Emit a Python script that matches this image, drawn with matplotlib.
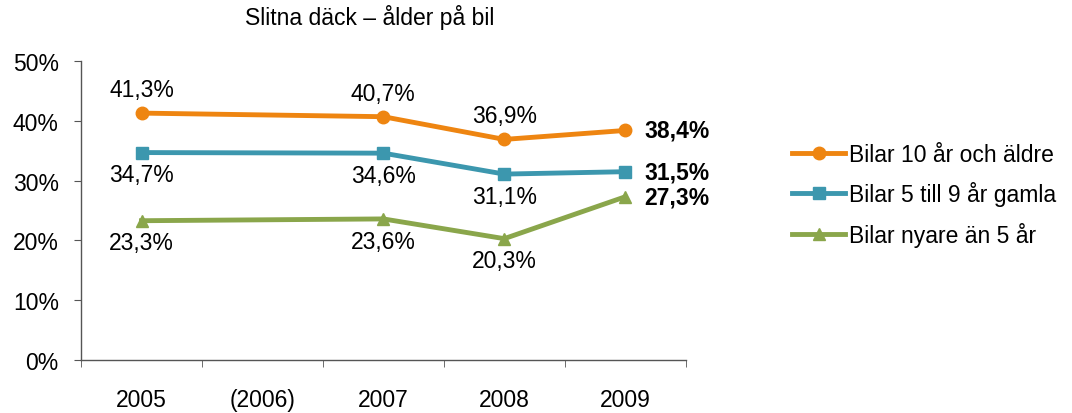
import matplotlib.pyplot as plt
from matplotlib.ticker import FixedLocator

plt.rcParams['font.family'] = ['Liberation Sans', 'DejaVu Sans']

# Data
categories = ["2005", "(2006)", "2007", "2008", "2009"]
x_idx = [0, 2, 3, 4]  # 2006 has no value
old_cars = [41.3, 40.7, 36.9, 38.4]
mid_cars = [34.7, 34.6, 31.1, 31.5]
new_cars = [23.3, 23.6, 20.3, 27.3]
labels = ["Bilar 10 år och äldre", "Bilar 5 till 9 år gamla", "Bilar nyare än 5 år"]
colors = ["#EE8511", "#3C97AE", "#8AA64B"]
markers = ["o", "s", "^"]

FS = 16.5

fig = plt.figure(figsize=(10.72, 4.14), dpi=100)
ax = fig.add_axes([0.0756, 0.128, 0.564, 0.722])

series = [old_cars, mid_cars, new_cars]
for vals, lab, c, m in zip(series, labels, colors, markers):
    ax.plot(x_idx, vals, color=c, marker=m, markersize=9, linewidth=3.5, label=lab)

def fmt(v):
    return f"{v:.1f}".replace(".", ",") + "%"

# data labels: orange above, others below, last point to the right in bold
offsets = [17, -16, -16]
for vals, off in zip(series, offsets):
    for xi, v in zip(x_idx[:-1], vals[:-1]):
        ax.annotate(fmt(v), (xi, v), xytext=(0, off), textcoords="offset points",
                    ha="center", va="center", fontsize=FS)
    ax.annotate(fmt(vals[-1]), (x_idx[-1], vals[-1]), xytext=(14, 0), textcoords="offset points",
                ha="left", va="center", fontsize=FS, fontweight="bold")

ax.set_xlim(-0.5, 4.5)
ax.set_ylim(0, 50)
ax.set_yticks([0, 10, 20, 30, 40, 50])
ax.set_yticklabels([f"{t}%" for t in range(0, 51, 10)], fontsize=FS)
ax.set_xticks(range(len(categories)))
ax.set_xticklabels(categories, fontsize=FS)
ax.tick_params(axis="x", length=0, pad=20)
ax.xaxis.set_minor_locator(FixedLocator([-0.5, 0.5, 1.5, 2.5, 3.5, 4.5]))
ax.tick_params(axis="x", which="minor", length=5, color="#555555")
ax.tick_params(axis="y", length=5, color="#555555", pad=11)

for s in ["top", "right"]:
    ax.spines[s].set_visible(False)
for s in ["left", "bottom"]:
    ax.spines[s].set_color("#555555")
    ax.spines[s].set_linewidth(1)

fig.text(0.345, 0.957, "Slitna däck – ålder på bil", ha="center", va="center", fontsize=FS)

fig.legend(loc="center left", bbox_to_anchor=(0.739, 0.527), frameon=False, fontsize=FS,
           handlelength=2.3, handletextpad=0.2, labelspacing=0.68,
           borderpad=0, borderaxespad=0)

fig.savefig("out.png", dpi=100)
